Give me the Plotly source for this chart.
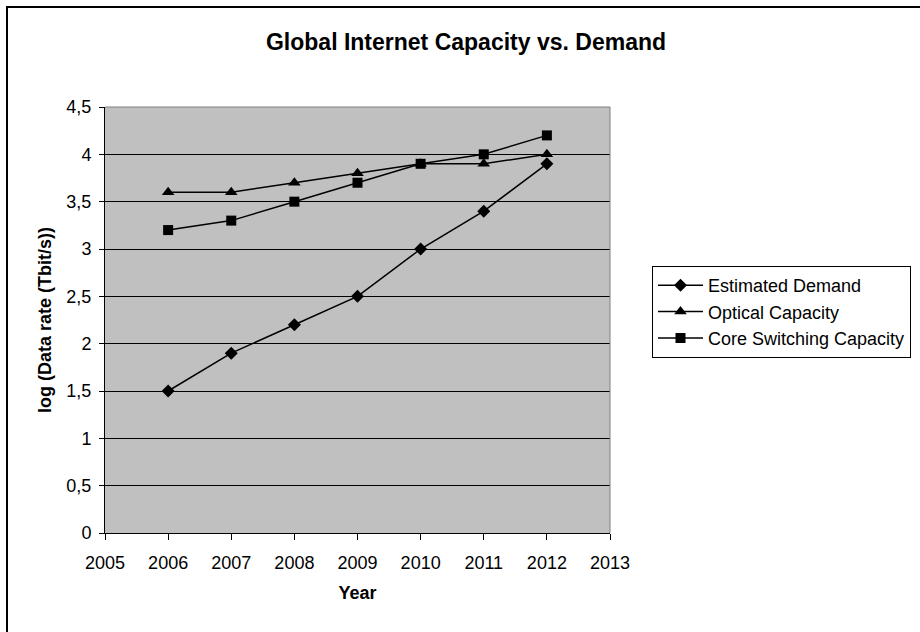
import plotly.graph_objects as go

years = [2006, 2007, 2008, 2009, 2010, 2011, 2012]
estimated_demand = [1.5, 1.9, 2.2, 2.5, 3.0, 3.4, 3.9]
optical_capacity = [3.6, 3.6, 3.7, 3.8, 3.9, 3.9, 4.0]
core_switching = [3.2, 3.3, 3.5, 3.7, 3.9, 4.0, 4.2]

y_ticks = [0, 0.5, 1, 1.5, 2, 2.5, 3, 3.5, 4, 4.5]
y_tick_text = ["0", "0,5", "1", "1,5", "2", "2,5", "3", "3,5", "4", "4,5"]
x_ticks = list(range(2005, 2014))

FONT = "Liberation Sans, Arial, sans-serif"

# plot area in pixels
L, R, T, B = 105, 610, 107, 533
W, H = 920, 632
pw, ph = R - L, B - T


def px_x(x):
    return (x - L) / pw


def px_y(y):
    return (B - y) / ph


fig = go.Figure()

series = [
    ("Estimated Demand", estimated_demand, "diamond", 10),
    ("Optical Capacity", optical_capacity, "triangle-up", 11),
    ("Core Switching Capacity", core_switching, "square", 10),
]
for name, vals, sym, size in series:
    fig.add_trace(go.Scatter(
        x=years, y=vals, name=name, mode="lines+markers",
        line=dict(color="black", width=1.5),
        marker=dict(symbol=sym, size=size, color="black"),
    ))

fig.update_layout(
    width=W, height=H,
    margin=dict(l=L, r=W - R, t=T, b=H - B, autoexpand=False),
    paper_bgcolor="white",
    plot_bgcolor="#C0C0C0",
    font=dict(family=FONT, size=18, color="black"),
    title=dict(
        text="<b>Global Internet Capacity vs. Demand</b>",
        x=px_x(466), xref="paper", xanchor="center",
        y=1 - 42 / H, yref="container", yanchor="middle",
        font=dict(family=FONT, size=23, color="black"),
    ),
    xaxis=dict(
        range=[2005, 2013], tickvals=x_ticks,
        ticks="outside", ticklen=6, tickcolor="black", tickwidth=1,
        showline=True, linecolor="black", linewidth=1,
        showgrid=False, zeroline=False,
        ticklabelstandoff=7,
        title=dict(text="<b>Year</b>", font=dict(family=FONT, size=18), standoff=14),
    ),
    yaxis=dict(
        range=[0, 4.5], tickvals=y_ticks, ticktext=y_tick_text,
        ticks="outside", ticklen=5, tickcolor="black", tickwidth=1,
        showline=True, linecolor="black", linewidth=1,
        showgrid=True, gridcolor="black", gridwidth=1,
        zeroline=False,
        ticklabelstandoff=4,
        title=dict(text="<b>log (Data rate (Tbit/s))</b>", font=dict(family=FONT, size=18), standoff=10),
    ),
    legend=dict(
        x=px_x(652), y=px_y(266), xanchor="left", yanchor="top",
        bgcolor="white", bordercolor="black", borderwidth=1,
        font=dict(family=FONT, size=18, color="black"),
        tracegroupgap=0, itemwidth=45,
    ),
    shapes=[
        # grey frame on the top and right of the plot area
        dict(type="line", xref="paper", yref="paper", x0=0, x1=1, y0=1, y1=1,
             line=dict(color="#808080", width=1)),
        dict(type="line", xref="paper", yref="paper", x0=1, x1=1, y0=0, y1=1,
             line=dict(color="#808080", width=1)),
        # outer chart border
        dict(type="rect", xref="paper", yref="paper",
             x0=px_x(7), x1=px_x(W + 10), y0=px_y(H + 10), y1=px_y(7),
             line=dict(color="black", width=2)),
    ],
)

fig.write_html("out.html")
